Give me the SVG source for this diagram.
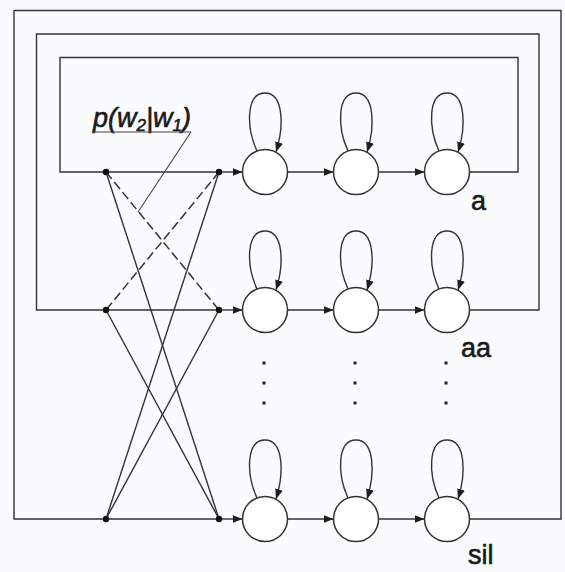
<svg xmlns="http://www.w3.org/2000/svg" width="565" height="572" viewBox="0 0 565 572">
<defs>
<marker id="ah" viewBox="0 0 10 8" refX="10" refY="4" markerWidth="10" markerHeight="8" markerUnits="userSpaceOnUse" orient="auto"><path d="M0,0 L10,4 L0,8 z" fill="#1e1e1e"/></marker>
<style>
.ln{fill:none;stroke:#333;stroke-width:1.4}
.dash{fill:none;stroke:#333;stroke-width:1.5;stroke-dasharray:9 4}
.thin{fill:none;stroke:#444;stroke-width:1.1}
.st{fill:#fff;stroke:#333;stroke-width:1.5}
.loop{fill:none;stroke:#333;stroke-width:1.4;marker-end:url(#ah)}
.arr{fill:none;stroke:#333;stroke-width:1.4;marker-end:url(#ah)}
.dot{fill:#111}
.ell{fill:#222}
.lbl{font-family:"Liberation Sans",Arial,sans-serif;font-size:27px;fill:#1a1a1a;stroke:#1a1a1a;stroke-width:0.6}
</style>
</defs>
<rect width="565" height="572" fill="#fafbfd"/>
<g id="connectors">
<path class="ln" d="M469.5,172 H518 V57.5 H60 V172 H219"/>
<path class="ln" d="M469.5,310 H539 V34 H36.5 V310 H219"/>
<path class="ln" d="M469.5,519 H561 V10.5 H14 V519 H219"/>
<line class="dash" x1="106" y1="172" x2="219" y2="310"/>
<line class="dash" x1="219" y1="172" x2="106" y2="310"/>
<line class="ln" x1="106" y1="172" x2="219" y2="519"/>
<line class="ln" x1="219" y1="172" x2="106" y2="519"/>
<line class="ln" x1="106" y1="310" x2="219" y2="519"/>
<line class="ln" x1="219" y1="310" x2="106" y2="519"/>
<line class="thin" x1="191" y1="132" x2="138" y2="212"/>
<line class="arr" x1="219" y1="172" x2="242.5" y2="172"/>
<line class="arr" x1="287.5" y1="172" x2="333.5" y2="172"/>
<line class="arr" x1="378.5" y1="172" x2="424.5" y2="172"/>
<line class="arr" x1="219" y1="310" x2="242.5" y2="310"/>
<line class="arr" x1="287.5" y1="310" x2="333.5" y2="310"/>
<line class="arr" x1="378.5" y1="310" x2="424.5" y2="310"/>
<line class="arr" x1="219" y1="519" x2="242.5" y2="519"/>
<line class="arr" x1="287.5" y1="519" x2="333.5" y2="519"/>
<line class="arr" x1="378.5" y1="519" x2="424.5" y2="519"/>
<path class="loop" d="M257,151 C246,127 246,93 265,93 C284,93 284,127 276,152"/>
<path class="loop" d="M348,151 C337,127 337,93 356,93 C375,93 375,127 367,152"/>
<path class="loop" d="M439,151 C428,127 428,93 447,93 C466,93 466,127 458,152"/>
<path class="loop" d="M257,289 C246,265 246,231 265,231 C284,231 284,265 276,290"/>
<path class="loop" d="M348,289 C337,265 337,231 356,231 C375,231 375,265 367,290"/>
<path class="loop" d="M439,289 C428,265 428,231 447,231 C466,231 466,265 458,290"/>
<path class="loop" d="M257,498 C246,474 246,440 265,440 C284,440 284,474 276,499"/>
<path class="loop" d="M348,498 C337,474 337,440 356,440 C375,440 375,474 367,499"/>
<path class="loop" d="M439,498 C428,474 428,440 447,440 C466,440 466,474 458,499"/>
</g>
<g id="junctions">
<circle class="dot" cx="106" cy="172" r="3.2"/>
<circle class="dot" cx="219" cy="172" r="3.2"/>
<circle class="dot" cx="106" cy="310" r="3.2"/>
<circle class="dot" cx="219" cy="310" r="3.2"/>
<circle class="dot" cx="106" cy="519" r="3.2"/>
<circle class="dot" cx="219" cy="519" r="3.2"/>
</g>
<g id="word-a">
<circle class="st" cx="265" cy="172" r="22.5"/>
<circle class="st" cx="356" cy="172" r="22.5"/>
<circle class="st" cx="447" cy="172" r="22.5"/>
<text class="lbl" x="471" y="210">a</text>
</g>
<g id="word-aa">
<circle class="st" cx="265" cy="310" r="22.5"/>
<circle class="st" cx="356" cy="310" r="22.5"/>
<circle class="st" cx="447" cy="310" r="22.5"/>
<text class="lbl" x="461" y="357">aa</text>
</g>
<g id="ellipsis">
<rect class="ell" x="262.5" y="361.5" width="3" height="3"/>
<rect class="ell" x="262.5" y="381.5" width="3" height="3"/>
<rect class="ell" x="262.5" y="401.5" width="3" height="3"/>
<rect class="ell" x="353.5" y="361.5" width="3" height="3"/>
<rect class="ell" x="353.5" y="381.5" width="3" height="3"/>
<rect class="ell" x="353.5" y="401.5" width="3" height="3"/>
<rect class="ell" x="444.5" y="361.5" width="3" height="3"/>
<rect class="ell" x="444.5" y="381.5" width="3" height="3"/>
<rect class="ell" x="444.5" y="401.5" width="3" height="3"/>
</g>
<g id="word-sil">
<circle class="st" cx="265" cy="519" r="22.5"/>
<circle class="st" cx="356" cy="519" r="22.5"/>
<circle class="st" cx="447" cy="519" r="22.5"/>
<text class="lbl" x="468" y="564">sil</text>
</g>
<g id="bigram-label">
<text class="lbl" x="93" y="127" font-style="italic" font-size="28">p(w<tspan font-size="17" dy="4">2</tspan><tspan dy="-4">|w</tspan><tspan font-size="17" dy="4">1</tspan><tspan dy="-4">)</tspan></text>
<line class="thin" x1="93" y1="132" x2="191" y2="132"/>
</g>
</svg>
